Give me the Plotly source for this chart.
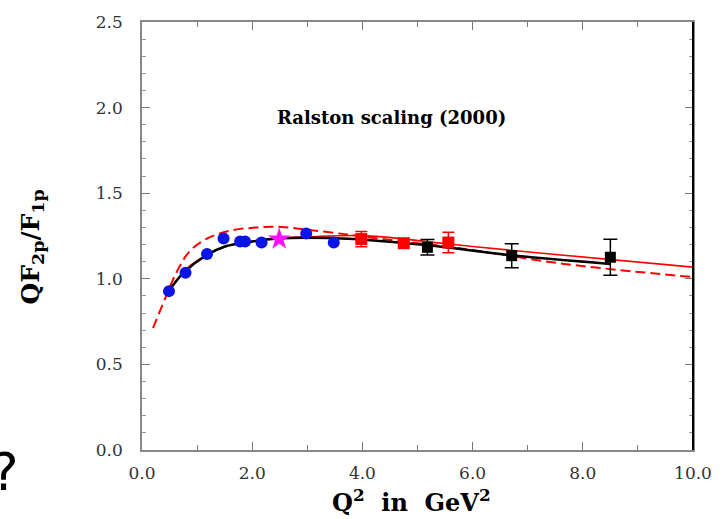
import plotly.graph_objects as go

# Data
blue_x = [0.49, 0.79, 1.18, 1.48, 1.78, 1.87, 2.17, 2.98, 3.48]
blue_y = [0.928, 1.035, 1.145, 1.236, 1.218, 1.218, 1.212, 1.264, 1.212]

star_x = [2.49]
star_y = [1.232]

red_x = [3.98, 4.75, 5.56]
red_y = [1.232, 1.208, 1.212]
red_err = [0.045, 0.0, 0.06]

black_x = [5.18, 6.71, 8.50]
black_y = [1.184, 1.135, 1.126]
black_err = [0.045, 0.07, 0.105]

# Curves
black_curve_x = [0.49, 0.74, 1.16, 1.52, 1.94, 2.47, 2.95, 3.85, 4.26, 5.28, 6.65, 8.50]
black_curve_y = [0.93, 1.03, 1.136, 1.19, 1.215, 1.235, 1.24, 1.232, 1.222, 1.193, 1.139, 1.087]

red_curve_x = [0.54, 0.81, 1.17, 1.53, 1.98, 2.52, 3.05, 4.08, 5.57, 7.07, 10.0]
red_curve_y = [0.95, 1.06, 1.14, 1.19, 1.218, 1.238, 1.246, 1.251, 1.203, 1.155, 1.068]

dash_curve_x = [0.20, 0.42, 0.63, 0.86, 1.16, 1.58, 2.06, 2.53, 3.07, 3.67, 4.14, 5.87, 7.66, 10.0]
dash_curve_y = [0.712, 0.885, 1.04, 1.159, 1.232, 1.28, 1.299, 1.303, 1.284, 1.261, 1.241, 1.174, 1.087, 1.01]

x_ticks = [0, 2, 4, 6, 8, 10]
x_labels = ["0.0", "2.0", "4.0", "6.0", "8.0", "10.0"]
y_ticks = [0, 0.5, 1.0, 1.5, 2.0, 2.5]
y_labels = ["0.0", "0.5", "1.0", "1.5", "2.0", "2.5"]

fig = go.Figure()

fig.add_trace(go.Scatter(x=dash_curve_x, y=dash_curve_y, mode="lines", line_shape="spline",
                         line=dict(color="red", width=2, dash="10px,5px")))
fig.add_trace(go.Scatter(x=red_curve_x, y=red_curve_y, mode="lines", line_shape="spline",
                         line=dict(color="red", width=1.6)))
fig.add_trace(go.Scatter(x=black_curve_x, y=black_curve_y, mode="lines", line_shape="spline",
                         line=dict(color="black", width=2.5)))

fig.add_trace(go.Scatter(x=blue_x, y=blue_y, mode="markers",
                         marker=dict(symbol="circle", size=12, color="#0a14e6")))
fig.add_trace(go.Scatter(x=star_x, y=star_y, mode="markers",
                         marker=dict(symbol="star", size=17, color="#ff10ff")))
fig.add_trace(go.Scatter(x=red_x, y=red_y, mode="markers",
                         error_y=dict(type="data", array=red_err, color="red", thickness=1.5, width=6),
                         marker=dict(symbol="square", size=12, color="red")))
fig.add_trace(go.Scatter(x=black_x, y=black_y, mode="markers",
                         error_y=dict(type="data", array=black_err, color="black", thickness=1.5, width=7),
                         marker=dict(symbol="square", size=11, color="black")))

axis_font = dict(family="DejaVu Serif", size=17, color="#333")

fig.update_layout(
    width=724, height=519,
    margin=dict(l=142, r=23, t=17, b=69),
    paper_bgcolor="white", plot_bgcolor="white",
    showlegend=False,
    xaxis=dict(range=[0, 10], tickvals=x_ticks, ticktext=x_labels, tickfont=axis_font,
               showgrid=False, zeroline=False, showline=True, mirror="ticks",
               linecolor="#888", linewidth=1.5, ticks="inside", ticklen=8, tickcolor="#777",
               ticklabelstandoff=7,
               minor=dict(dtick=1, ticks="inside", ticklen=5, tickcolor="#777")),
    yaxis=dict(range=[0, 2.5], tickvals=y_ticks, ticktext=y_labels, tickfont=axis_font,
               showgrid=False, zeroline=False, showline=True, mirror="ticks",
               linecolor="#888", linewidth=1.5, ticks="inside", ticklen=8, tickcolor="#777",
               ticklabelstandoff=14,
               minor=dict(dtick=0.1, ticks="inside", ticklen=4, tickcolor="#999")),
)

# right frame edge is drawn black in the reference
fig.add_shape(type="line", xref="paper", yref="paper", x0=1, x1=1, y0=0, y1=1,
              line=dict(color="black", width=2))

fig.add_annotation(text="<b>Ralston scaling (2000)</b>", xref="x", yref="y", x=4.53, y=1.94,
                   showarrow=False, font=dict(family="DejaVu Serif", size=18, color="black"))
fig.add_annotation(text="<b>Q<sup>2</sup>  in  GeV<sup>2</sup></b>", xref="paper", yref="paper",
                   x=0.489, y=-0.118, xanchor="center", yanchor="middle", showarrow=False,
                   font=dict(family="DejaVu Serif", size=24, color="black"))
fig.add_annotation(text="<b>QF<sub>2p</sub>/F<sub>1p</sub></b>", xref="paper", yref="paper",
                   x=-0.2, y=0.475, xanchor="center", yanchor="middle", textangle=-90, showarrow=False,
                   font=dict(family="DejaVu Serif", size=25, color="black"))
fig.add_annotation(text="?", xref="paper", yref="paper", x=-0.2205, y=-0.052,
                   xanchor="right", yanchor="middle", showarrow=False,
                   font=dict(family="DejaVu Sans", size=52, color="black"))

fig.write_html("out.html", config={"displayModeBar": False},
               post_script="document.body.style.margin='0px';document.body.style.overflow='hidden';")
